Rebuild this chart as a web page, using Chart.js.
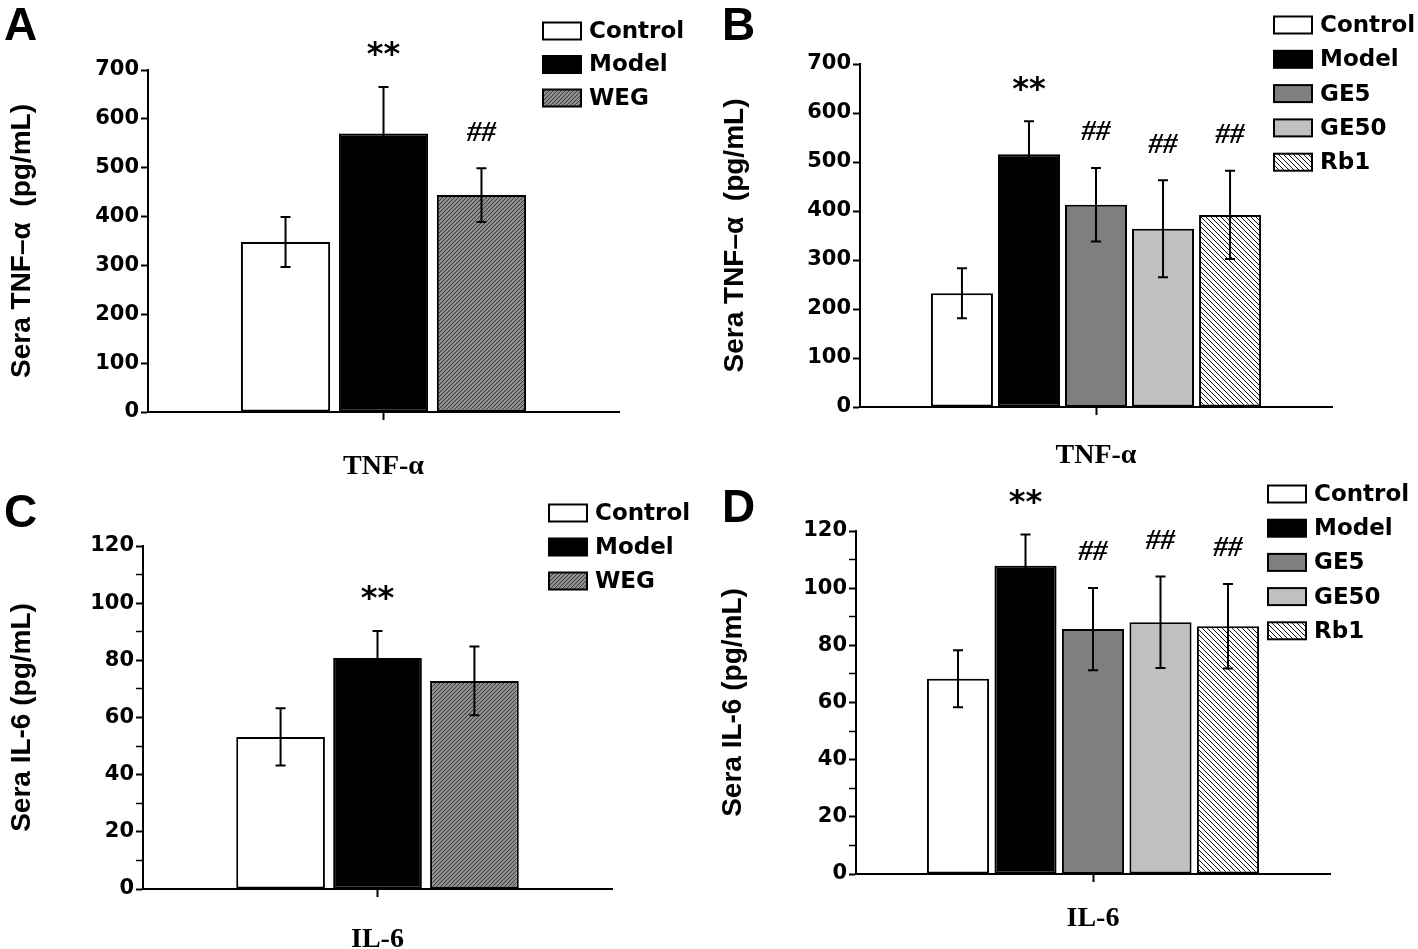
<!DOCTYPE html>
<html>
<head>
<meta charset="utf-8">
<script src="https://cdn.jsdelivr.net/npm/chart.js@4.4.0/dist/chart.umd.min.js"></script>
<style>
  html, body { margin: 0; padding: 0; background: #fff; }
  #wrap { position: relative; width: 1418px; height: 949px; }
  canvas { position: absolute; }
</style>
</head>
<body>
<div id="wrap">
  <canvas id="panelA" width="709" height="475" style="left:0;top:0"></canvas>
  <canvas id="panelB" width="709" height="475" style="left:709px;top:0"></canvas>
  <canvas id="panelC" width="709" height="474" style="left:0;top:475px"></canvas>
  <canvas id="panelD" width="709" height="474" style="left:709px;top:475px"></canvas>
</div>
<script>
// data
const groupsWEG = ['Control', 'Model', 'WEG'];
const groupsGE = ['Control', 'Model', 'GE5', 'GE50', 'Rb1'];

const tnfWEG = [348, 570, 444];
const tnfWEGErr = [51, 95, 55];
const tnfWEGMarks = ['', '**', '##'];

const tnfGE = [232, 516, 413, 364, 392];
const tnfGEErr = [51, 67, 75, 99, 90];
const tnfGEMarks = ['', '**', '##', '##', '##'];

const il6WEG = [53.2, 80.8, 72.8];
const il6WEGErr = [10, 9.5, 12];
const il6WEGMarks = ['', '**', ''];

const il6GE = [68.3, 107.8, 85.7, 88.1, 86.7];
const il6GEErr = [10, 11, 14.4, 16, 14.8];
const il6GEMarks = ['', '**', '##', '##', '##'];

const tnfTicks = { max: 700, step: 100 };
const il6Ticks = { max: 120, step: 20 };

const SANS = "'Liberation Sans', Arial, sans-serif";
const WIDE = "'DejaVu Sans', 'Liberation Sans', sans-serif";
const SERIF = "'Liberation Serif', 'Times New Roman', serif";

function hatch(bg, line, dir, size) {
  const c = document.createElement('canvas');
  c.width = size; c.height = size;
  const g = c.getContext('2d');
  g.fillStyle = bg;
  g.fillRect(0, 0, size, size);
  g.strokeStyle = line;
  g.lineWidth = 1;
  g.beginPath();
  for (let k = -1; k <= 1; k++) {
    if (dir === '/') {
      g.moveTo(k * size, size); g.lineTo(k * size + size, 0);
    } else {
      g.moveTo(k * size, 0); g.lineTo(k * size + size, size);
    }
  }
  g.stroke();
  return g.createPattern(c, 'repeat');
}

const fills = {
  Control: '#ffffff',
  Model: '#000000',
  WEG: hatch('#8e8e8e', '#3c3c3c', '/', 4),
  GE5: '#7f7f7f',
  GE50: '#c0c0c0',
  Rb1: hatch('#ffffff', '#111111', '\\', 5)
};

const decor = {
  id: 'decor',
  afterDatasetsDraw(chart, args, o) {
    const ctx = chart.ctx;
    const y = chart.scales.y;
    ctx.save();
    ctx.strokeStyle = '#000';
    ctx.lineWidth = 2;
    chart.data.datasets.forEach((ds, i) => {
      const bar = chart.getDatasetMeta(i).data[0];
      const v = ds.data[0], e = o.errors[i];
      const top = y.getPixelForValue(v + e), bot = y.getPixelForValue(v - e);
      ctx.beginPath();
      ctx.moveTo(bar.x, top); ctx.lineTo(bar.x, bot);
      ctx.moveTo(bar.x - 5, top); ctx.lineTo(bar.x + 5, top);
      ctx.moveTo(bar.x - 5, bot); ctx.lineTo(bar.x + 5, bot);
      ctx.stroke();
      const m = o.marks[i];
      if (m) {
        ctx.fillStyle = '#000';
        ctx.textAlign = 'center';
        ctx.textBaseline = 'middle';
        ctx.font = m === '**' ? 'bold 32px ' + WIDE : 'italic bold 29px ' + SERIF;
        ctx.fillText(m, bar.x, top - 37 + (m === '**' ? 6 : 2));
      }
    });
    // panel letter
    ctx.fillStyle = '#000';
    ctx.textAlign = 'left';
    ctx.textBaseline = 'alphabetic';
    ctx.font = 'bold 46px ' + SANS;
    ctx.fillText(o.letter, o.letterX, o.letterY);
    // legend
    ctx.font = 'bold 23px ' + WIDE;
    ctx.textBaseline = 'middle';
    chart.data.datasets.forEach((ds, i) => {
      const ly = o.legendY + i * o.legendGap;
      ctx.fillStyle = ds.backgroundColor;
      ctx.fillRect(o.legendX, ly - 8.5, 38, 17);
      ctx.strokeRect(o.legendX, ly - 8.5, 38, 17);
      ctx.fillStyle = '#000';
      ctx.fillText(ds.label, o.legendX + 46, ly + 1);
    });
    ctx.restore();
  }
};

function makePanel(id, p) {
  new Chart(document.getElementById(id), {
    type: 'bar',
    data: {
      labels: [p.category],
      datasets: p.groups.map((g, i) => ({
        label: g,
        data: [p.values[i]],
        backgroundColor: fills[g],
        borderColor: '#000',
        borderWidth: 2,
        borderSkipped: false,
        categoryPercentage: p.catPct,
        barPercentage: p.barPct
      }))
    },
    options: {
      responsive: false,
      animation: false,
      devicePixelRatio: 1,
      layout: { padding: { left: 0, top: p.top, right: p.right, bottom: 0 } },
      plugins: {
        legend: { display: false },
        tooltip: { enabled: false },
        decor: {
          errors: p.errors, marks: p.marks, letter: p.letter,
          letterX: p.letterX, letterY: p.letterY,
          legendX: p.legendX, legendY: p.legendY, legendGap: p.legendGap
        }
      },
      scales: {
        x: {
          afterFit: s => { s.height = p.xHeight; },
          grid: { display: true, drawOnChartArea: false, offset: false, tickLength: 8, tickWidth: 2, tickColor: '#000' },
          border: { display: true, width: 2, color: '#000' },
          ticks: { color: '#000', padding: p.xPad, font: { family: SERIF, size: 28, weight: 'bold' } }
        },
        y: {
          min: 0,
          max: p.ticks.max,
          afterFit: s => { s.width = p.yWidth; },
          grid: {
            display: true, drawOnChartArea: false, tickLength: 7, tickColor: '#000',
            tickWidth: c => (c.tick && c.tick.value % p.ticks.step ? 1.5 : 2)
          },
          border: { display: true, width: 2, color: '#000' },
          ticks: {
            stepSize: p.ticks.step / 2,
            color: '#000',
            padding: 2,
            font: { family: WIDE, size: 21, weight: 'bold' },
            callback: v => (v % p.ticks.step === 0 ? v : '')
          },
          title: {
            display: true, text: p.yTitle, color: '#000',
            padding: { top: p.titlePad, bottom: 0 },
            font: { family: SANS, size: 28, weight: 'bold' }
          }
        }
      }
    },
    plugins: [decor]
  });
}

makePanel('panelA', {
  category: 'TNF-α', groups: groupsWEG, values: tnfWEG, errors: tnfWEGErr, marks: tnfWEGMarks,
  ticks: tnfTicks, yTitle: 'Sera TNF–α  (pg/mL)',
  top: 70, right: 90, yWidth: 148, xHeight: 63, xPad: 30, titlePad: 5, catPct: 0.624, barPct: 0.91,
  letter: 'A', letterX: 4, letterY: 40, legendX: 543, legendY: 31, legendGap: 33.5
});
makePanel('panelB', {
  category: 'TNF-α', groups: groupsGE, values: tnfGE, errors: tnfGEErr, marks: tnfGEMarks,
  ticks: tnfTicks, yTitle: 'Sera TNF–α  (pg/mL)',
  top: 64, right: 86, yWidth: 151, xHeight: 68, xPad: 24, titlePad: 9, catPct: 0.71, barPct: 0.925,
  letter: 'B', letterX: 13, letterY: 40, legendX: 565, legendY: 25, legendGap: 34.3
});
makePanel('panelC', {
  category: 'IL-6', groups: groupsWEG, values: il6WEG, errors: il6WEGErr, marks: il6WEGMarks,
  ticks: il6Ticks, yTitle: 'Sera IL-6 (pg/mL)',
  top: 71, right: 97, yWidth: 143, xHeight: 60, xPad: 26, titlePad: 5, catPct: 0.62, barPct: 0.915,
  letter: 'C', letterX: 4, letterY: 52, legendX: 549, legendY: 38, legendGap: 34
});
makePanel('panelD', {
  category: 'IL-6', groups: groupsGE, values: il6GE, errors: il6GEErr, marks: il6GEMarks,
  ticks: il6Ticks, yTitle: 'Sera IL-6 (pg/mL)',
  top: 56, right: 88, yWidth: 147, xHeight: 75, xPad: 20, titlePad: 7, catPct: 0.712, barPct: 0.92,
  letter: 'D', letterX: 13, letterY: 47, legendX: 559, legendY: 19, legendGap: 34.2
});
</script>
</body>
</html>
